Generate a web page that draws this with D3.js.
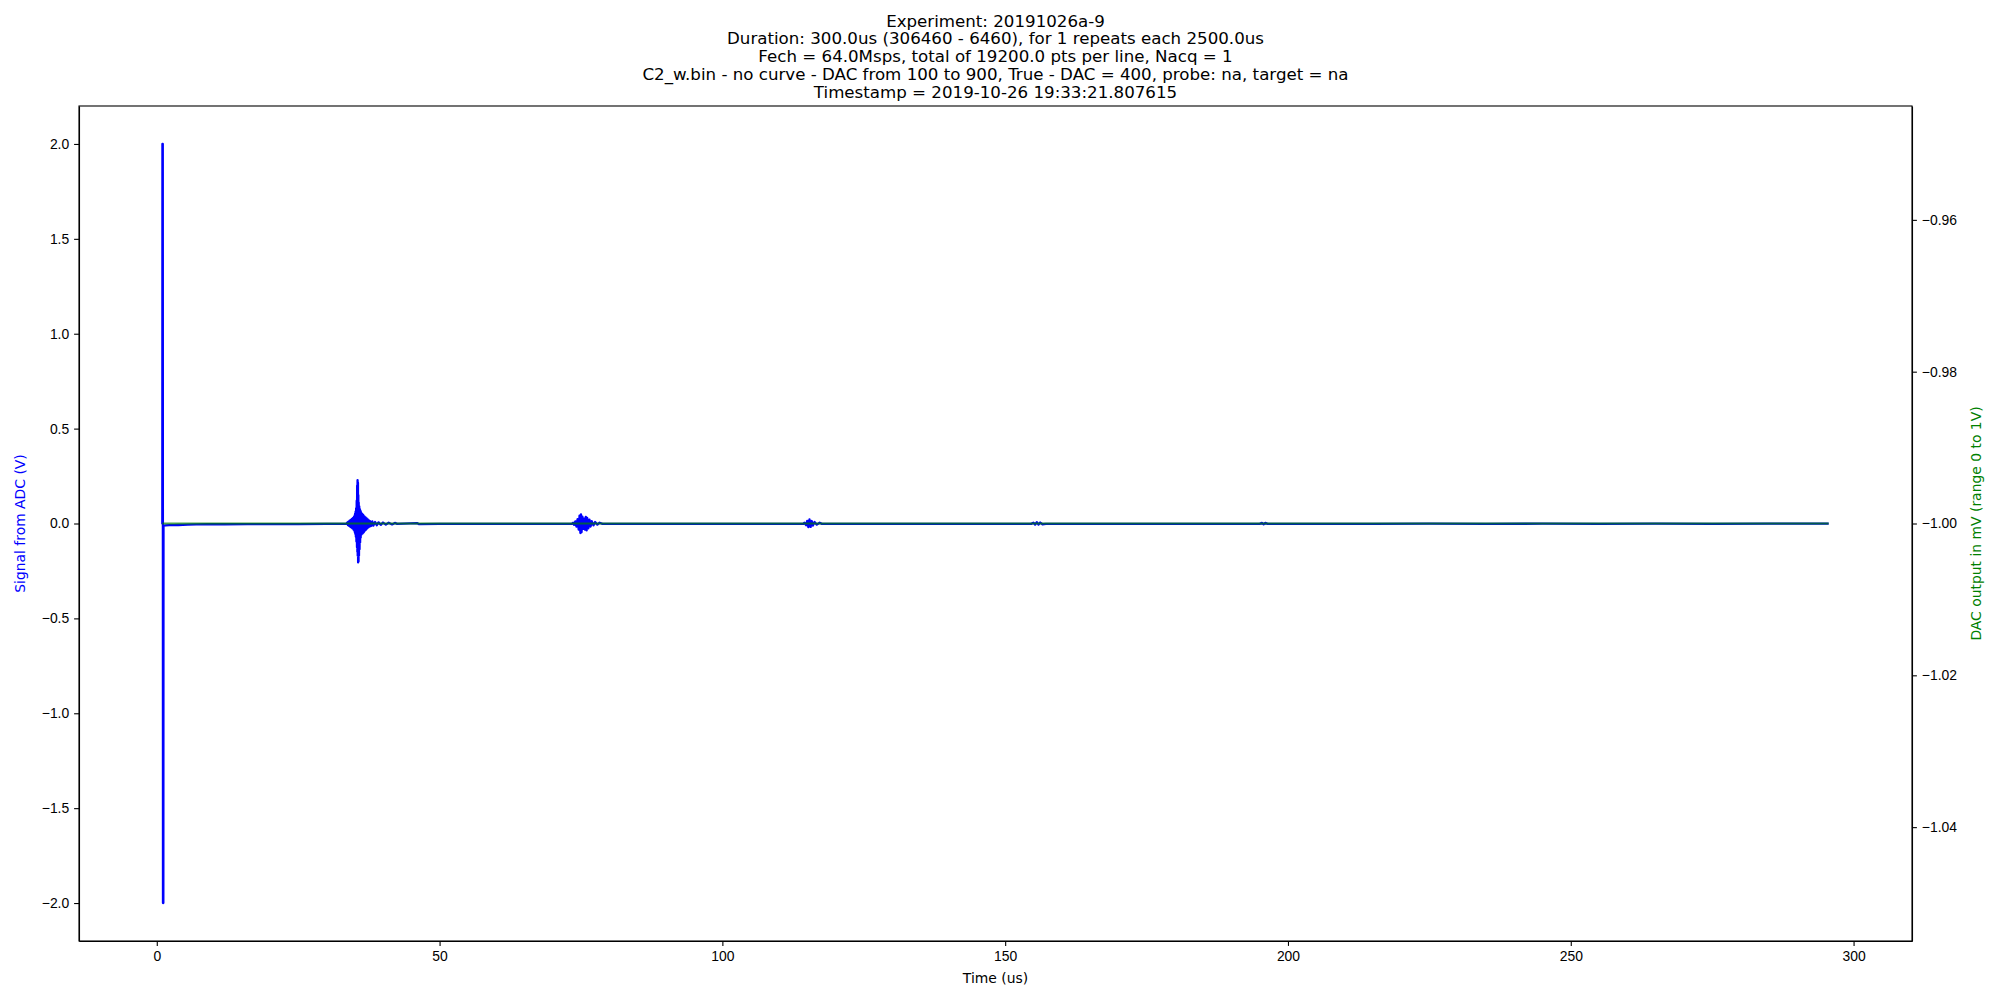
<!DOCTYPE html>
<html>
<head>
<meta charset="utf-8">
<script src="https://cdn.jsdelivr.net/npm/d3@7"></script>
<style>
  body { margin: 0; background: #fff; }
  svg { font-family: "DejaVu Sans", sans-serif; }
  .axis path, .axis line { stroke: #000; stroke-width: 1.1; }
  .axis text { font-size: 13.9px; fill: #000; }
</style>
</head>
<body>
<svg id="chart" width="2000" height="1000"></svg>
<script>
// title lines, as printed above the plot
const titleLines = [
  "Experiment: 20191026a-9",
  "Duration: 300.0us (306460 - 6460), for 1 repeats each 2500.0us",
  "Fech = 64.0Msps, total of 19200.0 pts per line, Nacq = 1",
  "C2_w.bin - no curve - DAC from 100 to 900, True - DAC = 400, probe: na, target = na",
  "Timestamp = 2019-10-26 19:33:21.807615"
]

const xTicks = [0, 50, 100, 150, 200, 250, 300]
const yLeftTicks = [-2.0, -1.5, -1.0, -0.5, 0.0, 0.5, 1.0, 1.5, 2.0]
const yRightTicks = [-1.04, -1.02, -1.00, -0.98, -0.96]

// ADC signal [time us, volts]
const excitation = [
  [0.98, -0.004], [1.00, 2.0], [1.06, 2.0], [1.10, -2.0], [1.16, -2.0], [1.19, -0.011]
]
const baseline = [
  [1.25, -0.011], [1.6, -0.010], [2.2, -0.009], [3.0, -0.009], [3.8, -0.008], [4.6, -0.007],
  [5.5, -0.006], [7.0, -0.005], [9.0, -0.004], [12.0, -0.004], [16.0, -0.003], [20.0, -0.003],
  [25.0, -0.003], [30.0, -0.002], [33.5, -0.002], [42.5, -0.002], [46.0, 0.002], [46.3, -0.003],
  [50.0, -0.002], [60.0, -0.002], [70.0, -0.002], [73.4, -0.002], [78.8, -0.002], [85.0, -0.002],
  [95.0, -0.002], [105.0, -0.002], [114.3, -0.002], [117.6, -0.002], [125.0, -0.002],
  [135.0, -0.002], [145.0, -0.002], [154.6, -0.002], [157.2, -0.002], [165.0, -0.002],
  [175.0, -0.002], [185.0, -0.002], [195.0, -0.002], [195.4, 0.003], [195.7, -0.004],
  [196.0, 0.003], [196.4, -0.002], [205.0, -0.002], [215.0, -0.002], [225.0, -0.001],
  [235.0, -0.002], [245.0, -0.001], [255.0, -0.002], [265.0, -0.001], [275.0, -0.002],
  [285.0, -0.001], [295.6, -0.001]
]
const echo1 = [
  [33.7, 0.006], [33.8, -0.008], [33.9, 0.010], [34.0, -0.012], [34.1, 0.015], [34.2, -0.017],
  [34.3, 0.019], [34.4, -0.021], [34.5, 0.024], [34.6, -0.026], [34.7, 0.029], [34.8, -0.033],
  [34.9, 0.038], [35.0, -0.045], [35.05, 0.050], [35.1, -0.055], [35.15, 0.062], [35.2, -0.070],
  [35.25, 0.080], [35.3, -0.095], [35.35, 0.120], [35.4, -0.125], [35.43, 0.200], [35.47, -0.150],
  [35.5, 0.228], [35.53, -0.170], [35.57, 0.215], [35.6, -0.205], [35.63, 0.150], [35.67, -0.200],
  [35.7, 0.110], [35.75, -0.170], [35.8, 0.090], [35.85, -0.135], [35.9, 0.075], [35.95, -0.100],
  [36.0, 0.068], [36.05, -0.075], [36.1, 0.060], [36.2, -0.058], [36.3, 0.052], [36.4, -0.052],
  [36.5, 0.045], [36.6, -0.046], [36.7, 0.038], [36.8, -0.038], [36.9, 0.032], [37.0, -0.032],
  [37.1, 0.027], [37.2, -0.026], [37.3, 0.021], [37.4, -0.020], [37.5, 0.016], [37.6, -0.016],
  [37.7, 0.013], [37.9, -0.013], [38.1, 0.011], [38.3, -0.011], [38.6, 0.008], [38.9, -0.009],
  [39.2, 0.006], [39.6, -0.007], [40.0, 0.005], [40.5, -0.006], [41.0, 0.004], [41.6, -0.005],
  [42.1, 0.003]
]
const echo2 = [
  [73.6, 0.004], [73.8, -0.007], [74.0, 0.011], [74.2, -0.016], [74.4, 0.023], [74.6, -0.032],
  [74.75, 0.042], [74.9, -0.050], [75.0, 0.048], [75.1, -0.046], [75.25, 0.036], [75.4, -0.028],
  [75.55, 0.026], [75.7, -0.032], [75.85, 0.035], [76.0, -0.036], [76.1, 0.030], [76.3, -0.025],
  [76.5, 0.020], [76.7, -0.016], [76.9, 0.012], [77.2, -0.010], [77.5, 0.008], [77.9, -0.006],
  [78.3, 0.004]
]
const echo3 = [
  [114.5, 0.004], [114.8, -0.009], [115.0, 0.014], [115.2, -0.019], [115.4, 0.022], [115.6, -0.018],
  [115.8, 0.013], [116.0, -0.011], [116.3, 0.008], [116.7, -0.006], [117.2, 0.004]
]
const echo4 = [
  [155.0, 0.004], [155.3, -0.006], [155.6, 0.007], [155.9, -0.006], [156.2, 0.005], [156.6, -0.004]
]

// DAC output [time us, mV]
const dacTime = [0.98, 295.6]
const dacValue = [-1.0, -1.0]

const adc = [].concat(excitation, baseline, echo1, echo2, echo3, echo4)
  .sort((a, b) => a[0] - b[0])
const dac = dacTime.map((t, i) => [t, dacValue[i]])

const svg = d3.select("#chart")
const margin = { left: 79, right: 88, top: 106, bottom: 59 }
const width = +svg.attr("width") - margin.left - margin.right
const height = +svg.attr("height") - margin.top - margin.bottom

const focus = svg.append("g")
  .attr("transform", "translate(" + margin.left + "," + margin.top + ")")

// matplotlib-like 5% padding around the data extent
function padded(ext) {
  const m = (ext[1] - ext[0]) * 0.05
  return [ext[0] - m, ext[1] + m]
}

const x = d3.scaleLinear()
  .domain(padded(d3.extent(adc, d => d[0])))
  .range([0, width])

const y = d3.scaleLinear()
  .domain(padded(d3.extent(adc, d => d[1])))
  .range([height, 0])

// constant DAC line: matplotlib widens by +-0.05 before padding
const y2 = d3.scaleLinear()
  .domain(padded([dacValue[0] - 0.05, dacValue[0] + 0.05]))
  .range([height, 0])

const line = d3.line()
  .x(d => x(d[0]))
  .y(d => y(d[1]))

const line2 = d3.line()
  .x(d => x(d[0]))
  .y(d => y2(d[1]))

focus.append("path")
  .datum(adc)
  .attr("fill", "none")
  .attr("stroke", "#0000ff")
  .attr("stroke-width", 2.3)
  .attr("stroke-linejoin", "round")
  .attr("d", line)

focus.append("path")
  .datum(dac)
  .attr("fill", "none")
  .attr("stroke", "#008000")
  .attr("stroke-opacity", 0.7)
  .attr("stroke-width", 2)
  .attr("d", line2)

// axes
const tick = 4.9
focus.append("g")
  .attr("class", "axis")
  .attr("transform", "translate(0," + height + ")")
  .call(d3.axisBottom(x).tickValues(xTicks).tickFormat(d3.format("d"))
    .tickSizeInner(tick).tickSizeOuter(0).tickPadding(4.9))

focus.append("g")
  .attr("class", "axis")
  .call(d3.axisLeft(y).tickValues(yLeftTicks).tickFormat(d3.format(".1f"))
    .tickSizeInner(tick).tickSizeOuter(0).tickPadding(4.9))

focus.append("g")
  .attr("class", "axis")
  .attr("transform", "translate(" + width + ",0)")
  .call(d3.axisRight(y2).tickValues(yRightTicks).tickFormat(d3.format(".2f"))
    .tickSizeInner(tick).tickSizeOuter(0).tickPadding(4.9))

// frame
focus.append("rect")
  .attr("width", width)
  .attr("height", height)
  .attr("fill", "none")
  .attr("stroke", "#000")
  .attr("stroke-width", 1.1)

// labels
svg.append("text")
  .attr("x", margin.left + width / 2)
  .attr("y", 983)
  .attr("text-anchor", "middle")
  .style("font-size", "13.9px")
  .text("Time (us)")

svg.append("text")
  .attr("transform", "translate(25," + (margin.top + y(0)) + ") rotate(-90)")
  .attr("text-anchor", "middle")
  .style("font-size", "13.9px")
  .style("fill", "#0000ff")
  .text("Signal from ADC (V)")

svg.append("text")
  .attr("transform", "translate(1981," + (margin.top + y2(-1)) + ") rotate(-90)")
  .attr("text-anchor", "middle")
  .style("font-size", "13.9px")
  .style("fill", "#008000")
  .text("DAC output in mV (range 0 to 1V)")

svg.append("g")
  .selectAll("text")
  .data(titleLines)
  .join("text")
  .attr("x", margin.left + width / 2)
  .attr("y", (d, i) => 26.5 + i * 17.85)
  .attr("text-anchor", "middle")
  .style("font-size", "16.67px")
  .text(d => d)
</script>
</body>
</html>
